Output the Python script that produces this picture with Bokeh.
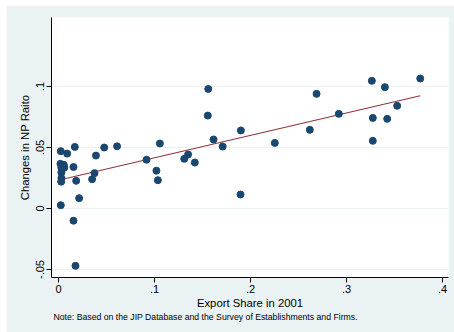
import numpy as np
from bokeh.plotting import figure
from bokeh.models import FixedTicker, Title
from bokeh.embed import file_html
from bokeh.resources import INLINE

# Export share in 2001 and change in NP ratio, one entry per industry
export_share = [
    0.0024, 0.009, 0.017, 0.0476, 0.061, 0.039,
    0.002, 0.0055, 0.003, 0.0060, 0.003,
    0.0156, 0.0375, 0.035, 0.0184, 0.003, 0.0028,
    0.0215, 0.0024, 0.0156, 0.0177,
    0.0917, 0.1056, 0.102, 0.1035, 0.131, 0.135, 0.142,
    0.1615, 0.171, 0.1896, 0.190, 0.156, 0.1555,
    0.2253, 0.2618, 0.2688, 0.292,
    0.3264, 0.340, 0.3274, 0.3424, 0.3274, 0.3528, 0.3768,
]
np_change = [
    0.047, 0.045, 0.0505, 0.050, 0.051, 0.0434,
    0.0366, 0.0358, 0.0334, 0.0334, 0.0295,
    0.034, 0.029, 0.024, 0.0227, 0.025, 0.022,
    0.0085, 0.0027, -0.010, -0.047,
    0.040, 0.0533, 0.031, 0.0232, 0.0407, 0.0443, 0.0377,
    0.0566, 0.0508, 0.0115, 0.064, 0.098, 0.0762,
    0.0538, 0.0645, 0.094, 0.0776,
    0.1047, 0.0995, 0.0743, 0.0735, 0.0555, 0.0842, 0.1066,
]

x_ticks = [0, 0.1, 0.2, 0.3, 0.4]
x_tick_labels = ["0", ".1", ".2", ".3", ".4"]
y_ticks = [-0.05, 0, 0.05, 0.1]
y_tick_labels = ["-.05", "0", ".05", ".1"]

FONT = "Liberation Sans"
REGION = "#EAF2F3"
NAVY = "#1a476f"
MAROON = "#90353b"

p = figure(
    width=448, height=327,
    x_range=(-0.0073, 0.40625), y_range=(-0.05656, 0.1566),
    output_backend="svg", toolbar_location=None,
    min_border_left=45, min_border_right=6, min_border_top=12, min_border_bottom=55,
)
p.margin = (5, 0, 0, 6)
p.background_fill_color = "white"
p.border_fill_color = REGION
p.outline_line_color = None

# linear fit over the observed range
slope, intercept = np.polyfit(export_share, np_change, 1)
fx = np.array([min(export_share), max(export_share)])
p.line(fx, intercept + slope * fx, line_color=MAROON, line_width=1.1)

p.scatter(export_share, np_change, size=7, marker="circle",
          fill_color=NAVY, line_color=NAVY)

# axes
p.xaxis.ticker = FixedTicker(ticks=x_ticks)
p.xaxis.major_label_overrides = {t: l for t, l in zip(x_ticks, x_tick_labels)}
p.yaxis.ticker = FixedTicker(ticks=y_ticks)
p.yaxis.major_label_overrides = {t: l for t, l in zip(y_ticks, y_tick_labels)}
p.yaxis.major_label_orientation = "vertical"

for ax in (p.xaxis, p.yaxis):
    ax.axis_line_color = "black"
    ax.major_tick_line_color = "black"
    ax.major_tick_out = 5
    ax.major_tick_in = 0
    ax.minor_tick_line_color = None
    ax.major_label_text_font = FONT
    ax.major_label_text_font_size = "11px"
    ax.major_label_text_color = "black"
    ax.axis_label_text_font = FONT
    ax.axis_label_text_font_size = "11.3px"
    ax.axis_label_text_font_style = "normal"
    ax.axis_label_text_color = "black"
    ax.major_label_standoff = 2
    ax.axis_label_standoff = 3

p.xaxis.axis_label_standoff = 1

p.xaxis.axis_label = "Export Share in 2001"
p.yaxis.axis_label = "Changes in NP Raito"

p.xgrid.grid_line_color = None
p.ygrid.grid_line_color = REGION
p.ygrid.grid_line_width = 1

note = Title(text="Note: Based on the JIP Database and the Survey of Establishments and Firms.",
             text_font=FONT, text_font_size="8.7px", text_font_style="normal",
             text_color="black", align="left", offset=2, standoff=-3)
p.add_layout(note, "below")

open("out.html", "w").write(file_html(p, INLINE))
